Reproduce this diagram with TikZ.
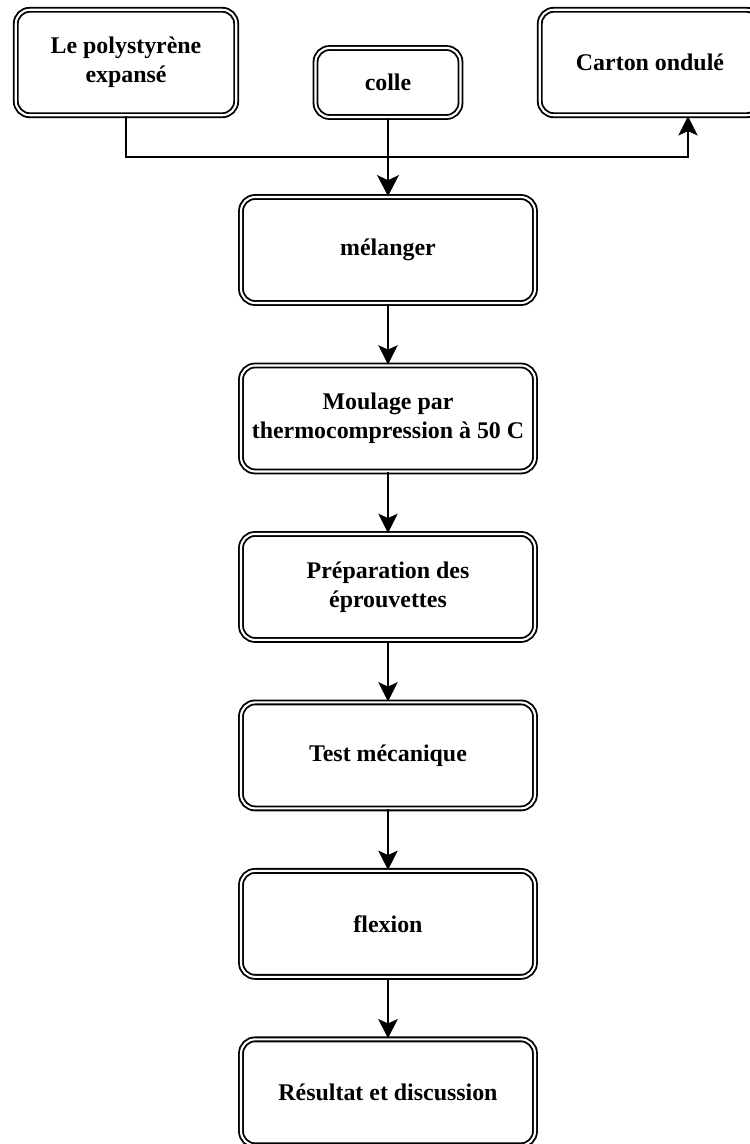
\documentclass[tikz,border=0pt]{standalone}
\usepackage{fontspec}
\setmainfont{Liberation Serif}
\usetikzlibrary{positioning, arrows.meta}
\tikzstyle{stepnode} = [rectangle, rounded corners=8pt,
draw=black,
line width=1.05pt,
double, double distance=1.2pt,
fill=white,
align=center,
inner sep=0pt,
font=\fontsize{13.6}{16.5}\selectfont\bfseries]
\tikzstyle{mainbox} = [stepnode, minimum width=5.88cm, minimum height=2.12cm]
\tikzstyle{arrow} = [line width=1pt, -{Stealth[length=11pt, width=11pt, inset=2.5pt]}]
\tikzstyle{bigarrow} = [line width=1pt, -{Stealth[length=12pt, width=12.5pt, inset=3pt]}]

\begin{document}
\begin{tikzpicture}[x=0.02cm, y=-0.02cm, node distance=3.37cm]
        \useasboundingbox (0,0) rectangle (750,1144);
        \node (poly) [stepnode, minimum width=4.41cm, minimum height=2.11cm] at (126,62.5) {Le polystyrène\\expansé};
        \node (colle) [stepnode, minimum width=2.9cm, minimum height=1.38cm] at (388,82.5) {colle};
        \node (carton) [stepnode, minimum width=4.41cm, minimum height=2.11cm] at (650,62.5) {Carton ondulé};
        \node (mel) [mainbox] at (388,250) {mélanger};
        \node (moul) [mainbox, below of=mel] {Moulage par\\thermocompression à 50 C};
        \node (prep) [mainbox, below of=moul] {Préparation des\\éprouvettes};
        \node (test) [mainbox, below of=prep] {Test mécanique};
        \node (flex) [mainbox, below of=test] {flexion};
        \node (res) [mainbox, below of=flex] {Résultat et discussion};
        \coordinate (bend) at (688,157);
        \draw [arrow] (poly.south) |- (bend) -- (bend |- carton.south);
        \draw [bigarrow] (colle) -- (mel);
        \draw [arrow] (mel) -- (moul);
        \draw [arrow] (moul) -- (prep);
        \draw [arrow] (prep) -- (test);
        \draw [arrow] (test) -- (flex);
        \draw [arrow] (flex) -- (res);
    \end{tikzpicture}
\end{document}
